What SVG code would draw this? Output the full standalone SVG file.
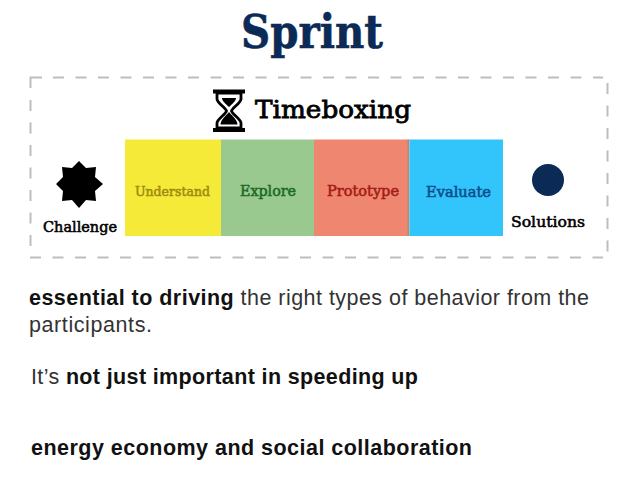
<svg xmlns="http://www.w3.org/2000/svg" width="638" height="479" viewBox="0 0 638 479">
<style>
.s{font-family:"DejaVu Serif",serif;font-weight:700}
.m{font-family:"DejaVu Serif",serif;font-weight:400}
.t{stroke-width:.55px}
.b{font-family:"Liberation Sans",Arial,sans-serif;font-size:21.5px;fill:#333}
.bb{font-weight:700;fill:#111}
.d{stroke:#bdbdbd;stroke-width:2;fill:none;stroke-dasharray:11 11.500}
</style>
<rect width="638" height="479" fill="#fff"/>
<text id="title" class="s" x="241" y="48" font-size="46" fill="#0b2a56" stroke="#0b2a56" stroke-width=".6" textLength="142" lengthAdjust="spacingAndGlyphs">Sprint</text>
<g id="frame">
<path d="M42 77.500H30.500V88" fill="none" stroke="#bdbdbd" stroke-width="2"/>
<path class="d" d="M30.500 100V246"/>
<path class="d" d="M53 77.500H603"/>
<path class="d" d="M607.500 83V253"/>
<path class="d" d="M30 257.500H603"/>
</g>
<g id="timeboxing">
<rect x="213" y="89.500" width="32" height="4" fill="#000"/>
<rect x="213" y="128" width="32" height="4" fill="#000"/>
<path d="M217 93v6c0 4 9 9 9.500 12c-.5 3-9.500 8-9.500 12v5h24v-5c0-4-9-9-9.500-12c.5-3 9.500-8 9.500-12v-6z" fill="#fff" stroke="#000" stroke-width="2.800"/>
<path d="M222 98h14c0 3-4 6-7 9c-3-3-7-6-7-9zM229 112c3 4 8 7 8.500 12.500h-17c.5-5.500 5.500-8.500 8.500-12.500z" fill="#000"/>
<text class="m" x="255" y="118" font-size="25" fill="#000" stroke="#000" stroke-width=".8" textLength="156" lengthAdjust="spacingAndGlyphs">Timeboxing</text>
</g>
<g id="challenge">
<polygon points="79,161 86,168 96,167 95,177 103,184 95,191 96,201 86,200 79,208 72,200 62,201 63,191 56,184 63,177 62,167 72,168" fill="#000"/>
<text class="m t" x="43" y="232" font-size="14" fill="#000" stroke="#000" textLength="74" lengthAdjust="spacingAndGlyphs">Challenge</text>
</g>
<g id="understand">
<rect x="125" y="139.500" width="96" height="96.500" fill="#f5ea38"/>
<text class="m t" x="135" y="196" font-size="13.500" fill="#a08a10" stroke="#a08a10" textLength="75" lengthAdjust="spacingAndGlyphs">Understand</text>
</g>
<g id="explore">
<rect x="221" y="139.500" width="93" height="96.500" fill="#99c98f"/>
<text class="m t" x="240" y="196" font-size="14" fill="#1c6a2a" stroke="#1c6a2a" textLength="56" lengthAdjust="spacingAndGlyphs">Explore</text>
</g>
<g id="prototype">
<rect x="314" y="139.500" width="95" height="96.500" fill="#ee8670"/>
<rect x="407.500" y="139.500" width="2" height="96.500" fill="#b98a78"/>
<text class="m t" x="327" y="196" font-size="14.500" fill="#a51c16" stroke="#a51c16" textLength="72" lengthAdjust="spacingAndGlyphs">Prototype</text>
</g>
<g id="evaluate">
<rect x="409.500" y="139.500" width="93.500" height="96.500" fill="#31c5fb"/>
<text class="m t" x="426" y="197" font-size="14" fill="#0e4c8c" stroke="#0e4c8c" textLength="65" lengthAdjust="spacingAndGlyphs">Evaluate</text>
</g>
<g id="solutions">
<circle cx="548" cy="180" r="16" fill="#0b2a56"/>
<text class="m t" x="511" y="227" font-size="14.500" fill="#000" stroke="#000" textLength="74" lengthAdjust="spacingAndGlyphs">Solutions</text>
</g>
<g id="body">
<text class="b" x="29" y="305" textLength="560"><tspan class="bb">essential to driving</tspan> the right types of behavior from the</text>
<text class="b" x="29" y="332" textLength="123">participants.</text>
<text class="b" x="31" y="384" textLength="387">It’s <tspan class="bb">not just important in speeding up</tspan></text>
<text class="b" x="31" y="455" textLength="441"><tspan class="bb">energy economy and social collaboration</tspan></text>
</g>
</svg>
